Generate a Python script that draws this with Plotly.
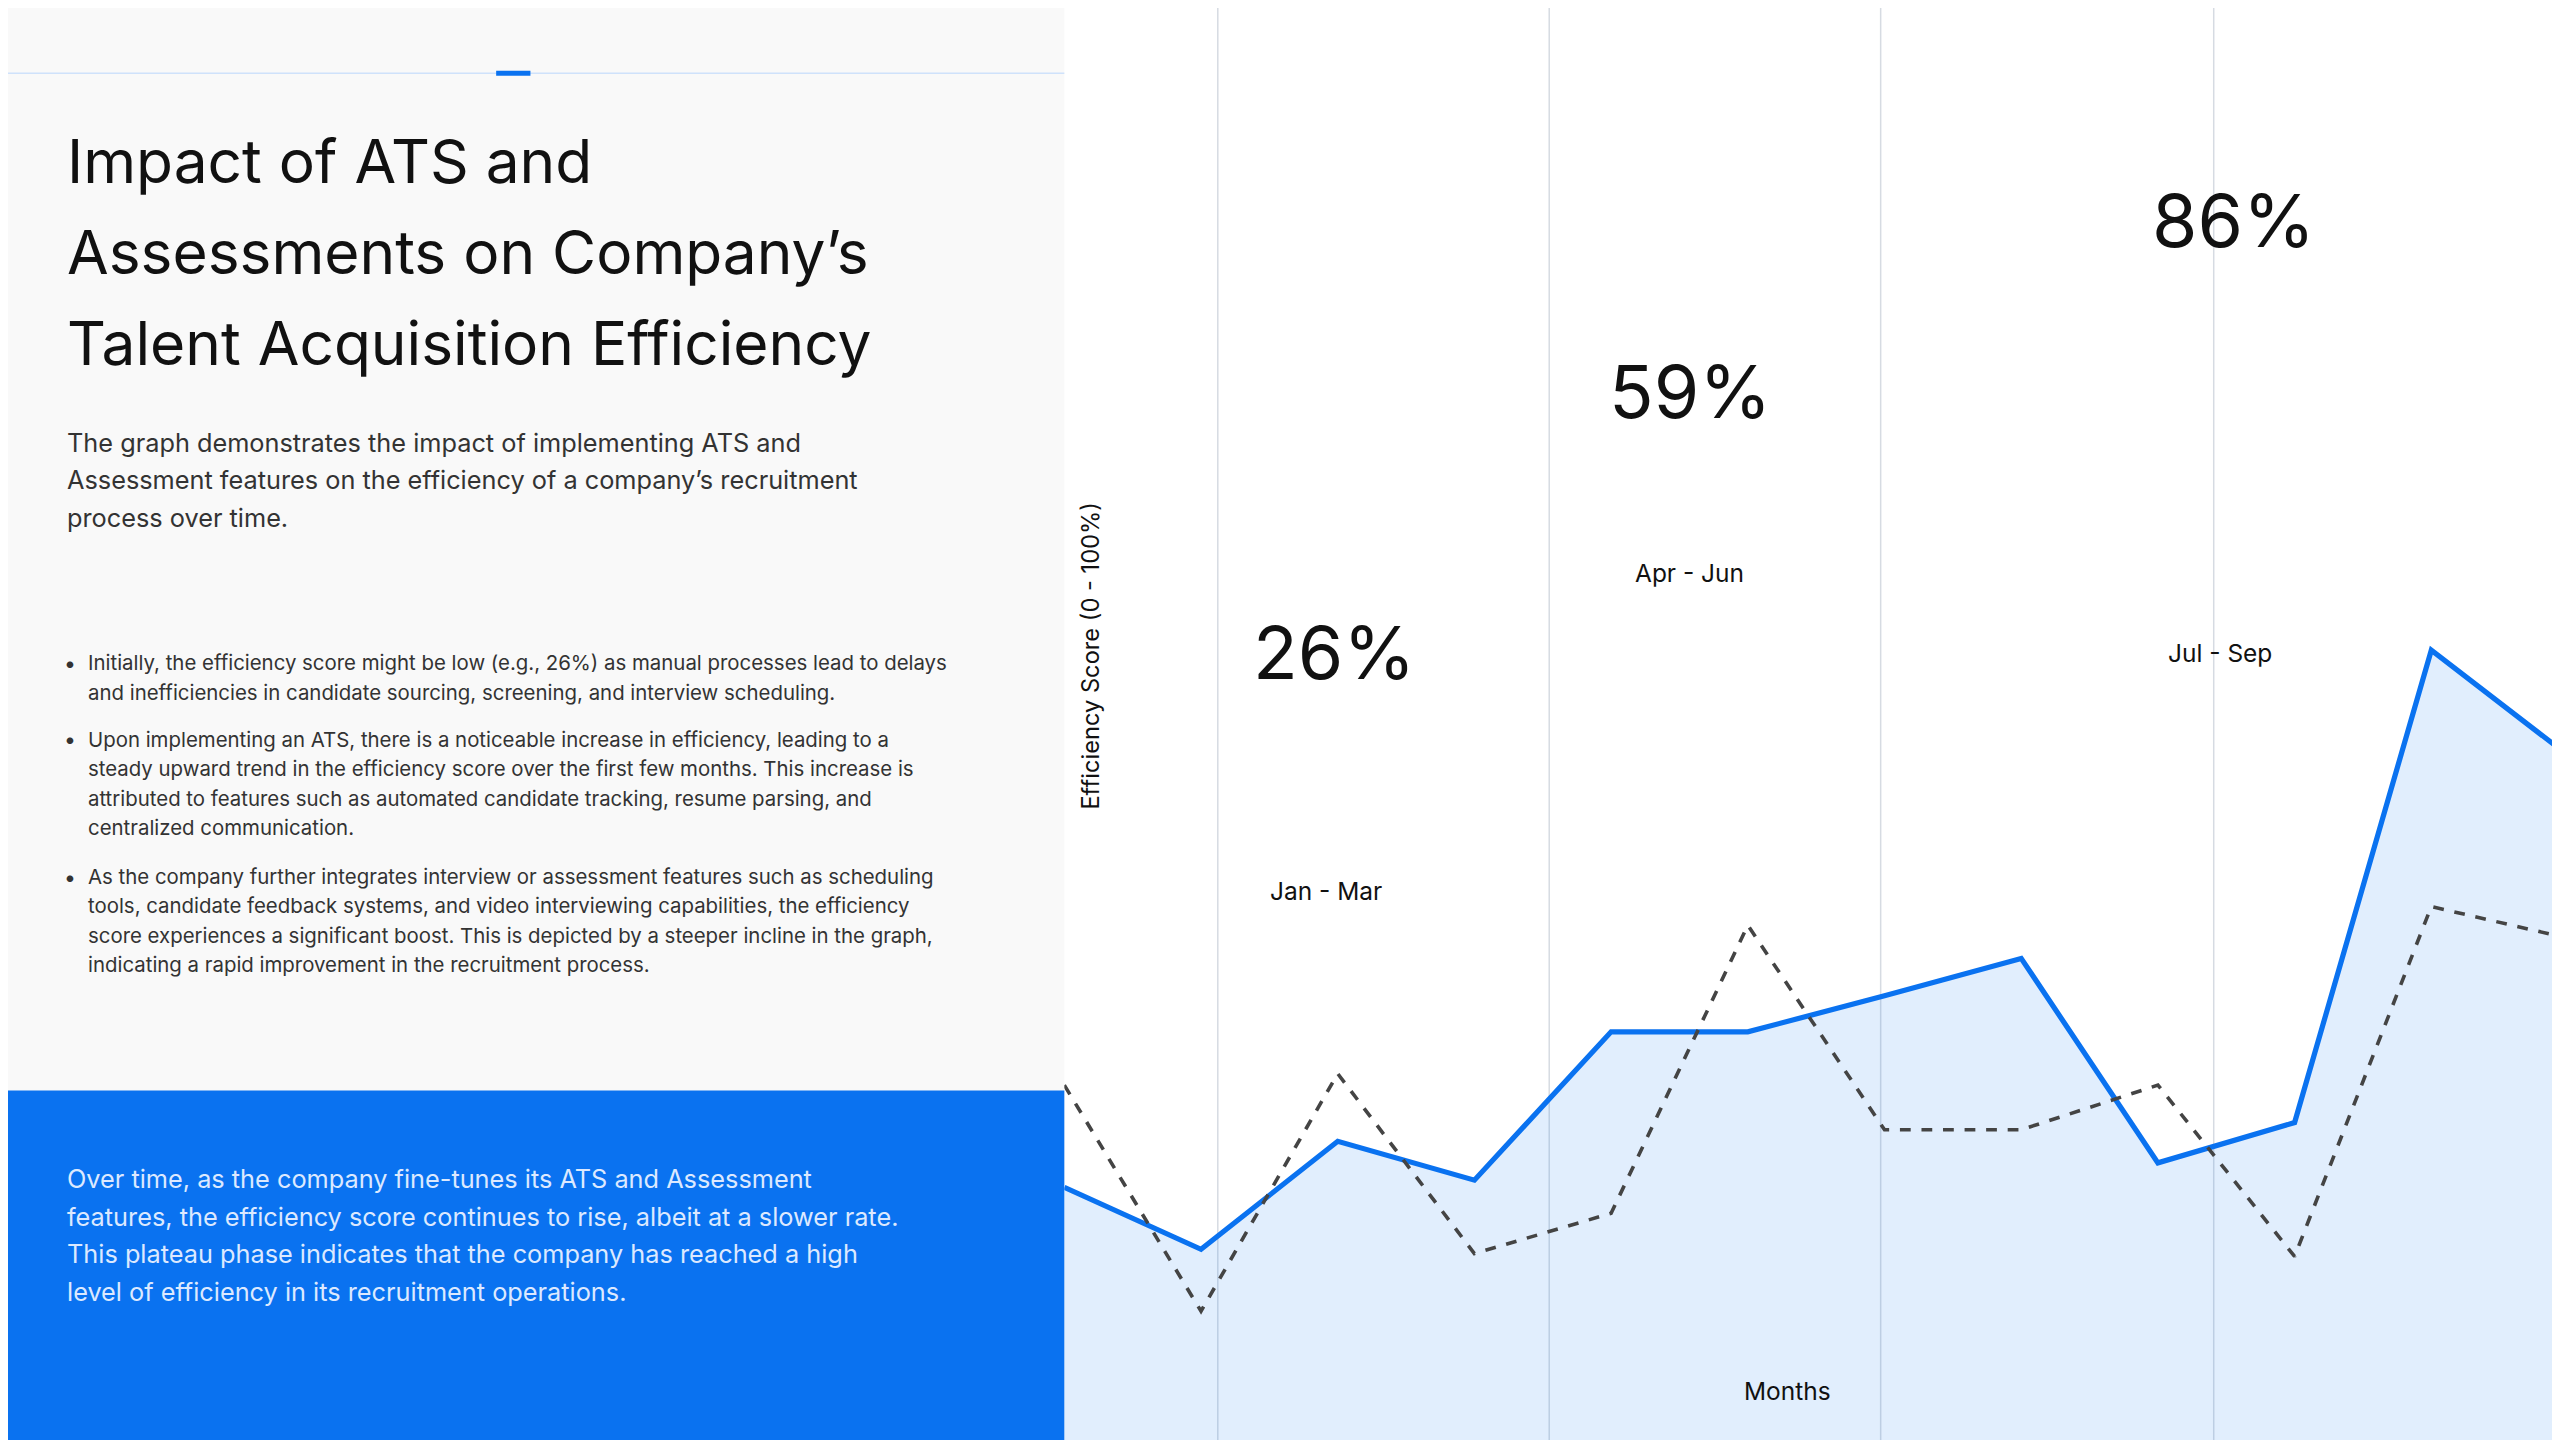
import plotly.graph_objects as go

# ------------------------- DATA -------------------------
months = list(range(12))
ats_efficiency = [18.1, 13.8, 21.3, 18.6, 28.9, 28.9, 31.4, 34.0, 19.8, 22.6, 55.4, 48.1]
baseline = [25.2, 9.5, 26.0, 13.5, 16.3, 36.3, 22.1, 22.1, 25.2, 13.3, 37.6, 35.4]

quarters = ["Jan - Mar", "Apr - Jun", "Jul - Sep"]
quarter_scores = ["26%", "59%", "86%"]

title = ["Impact of ATS and", "Assessments on Company’s", "Talent Acquisition Efficiency"]
intro = ["The graph demonstrates the impact of implementing ATS and",
         "Assessment features on the efficiency of a company’s recruitment",
         "process over time."]
bullets = [
    ["Initially, the efficiency score might be low (e.g., 26%) as manual processes lead to delays",
     "and inefficiencies in candidate sourcing, screening, and interview scheduling."],
    ["Upon implementing an ATS, there is a noticeable increase in efficiency, leading to a",
     "steady upward trend in the efficiency score over the first few months. This increase is",
     "attributed to features such as automated candidate tracking, resume parsing, and",
     "centralized communication."],
    ["As the company further integrates interview or assessment features such as scheduling",
     "tools, candidate feedback systems, and video interviewing capabilities, the efficiency",
     "score experiences a significant boost. This is depicted by a steeper incline in the graph,",
     "indicating a rapid improvement in the recruitment process."],
]
footer = ["Over time, as the company fine-tunes its ATS and Assessment",
          "features, the efficiency score continues to rise, albeit at a slower rate.",
          "This plateau phase indicates that the company has reached a high",
          "level of efficiency in its recruitment operations."]

# ------------------------- LAYOUT HELPERS -------------------------
W, H = 1568, 882  # reference pixel grid, scaled to 2560x1440
S = 2560 / W
FONT = "Inter"
BLUE = "#0a72f0"


def px(x, y):
    return x / W, 1 - y / H


fig = go.Figure()

fig.add_trace(go.Scatter(
    x=months, y=ats_efficiency, mode="lines", fill="tozeroy",
    fillcolor="rgba(10,114,240,0.12)", line=dict(color=BLUE, width=3.2 * S),
    hoverinfo="y", showlegend=False))
fig.add_trace(go.Scatter(
    x=months, y=baseline, mode="lines",
    line=dict(color="#444", width=2.2 * S, dash="dash"),
    hoverinfo="y", showlegend=False))

shapes = [
    dict(type="rect", xref="paper", yref="paper", x0=0, x1=647 / W, y0=0, y1=1,
         fillcolor="#f9f9f9", line_width=0, layer="below"),
    dict(type="rect", xref="paper", yref="paper", x0=0, x1=647 / W, y0=0, y1=1 - 663 / H,
         fillcolor=BLUE, line_width=0, layer="below"),
    dict(type="line", xref="paper", yref="paper", x0=0, x1=647 / W, y0=1 - 40 / H, y1=1 - 40 / H,
         line=dict(color="#cfe2fb", width=1.5)),
    dict(type="line", xref="paper", yref="paper", x0=299 / W, x1=320 / W, y0=1 - 40 / H, y1=1 - 40 / H,
         line=dict(color=BLUE, width=5)),
]
for gx in [741, 944, 1147, 1351]:
    shapes.append(dict(type="line", xref="paper", yref="paper", x0=gx / W, x1=gx / W, y0=0, y1=1,
                       line=dict(color="#d6dbe2", width=1.5), layer="below"))

ann = []
DX, DY = -5, -5  # page offset compensation


def text(x, y, t, size, color="#111", xanchor="left", **kw):
    ax, ay = px(x + DX, y + DY)
    ann.append(dict(x=ax, y=ay, xref="paper", yref="paper", text=t, showarrow=False,
                    xanchor=xanchor, yanchor="middle", align="left",
                    font=dict(family=FONT, size=size * S, color=color), **kw))


def block(x, y0, lines, size, step, color):
    for i, line in enumerate(lines):
        text(x, y0 + i * step, line, size, color=color)


block(40, 99, title, 37, 55.5, "#111")
block(40, 271, intro, 15.5, 23, "#333")
for by, b in zip([406, 453, 537], bullets):
    text(38, by, "•", 13, color="#333")
    block(53, by, b, 12.5, 18, "#333")
block(40, 722, footer, 15.5, 23, "#dce9ff")

for (x, y), s in zip([(817, 400), (1035, 240), (1368, 135)], quarter_scores):
    text(x, y, s, 45, xanchor="center")
for (x, y), q in zip([(812, 546), (1035, 351), (1360, 400)], quarters):
    text(x, y, q, 15, xanchor="center")
text(668, 402, "Efficiency Score (0 - 100%)", 14.5, xanchor="center", textangle=-90)
text(1095, 852, "Months", 15, xanchor="center")

fig.update_layout(
    width=2560, height=1440, margin=dict(l=0, r=0, t=0, b=0),
    paper_bgcolor="white", plot_bgcolor="rgba(0,0,0,0)",
    xaxis=dict(domain=[647 / W, 1], range=[0, 11], visible=False, fixedrange=True),
    yaxis=dict(domain=[0, 1], range=[0, 100], visible=False, fixedrange=True),
    shapes=shapes, annotations=ann, font=dict(family=FONT),
)

fig.write_html("out.html")
